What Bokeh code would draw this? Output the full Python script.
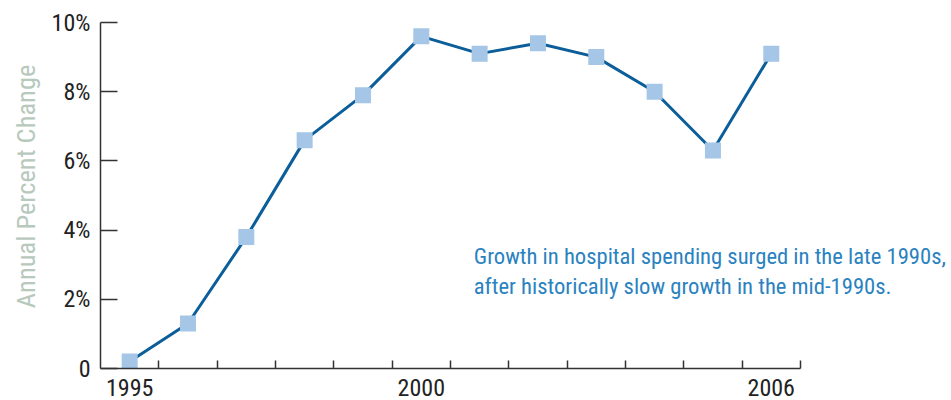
from bokeh.plotting import figure
from bokeh.models import Range1d, FixedTicker, Label
from bokeh.embed import file_html
from bokeh.resources import INLINE

years = [1995, 1996, 1997, 1998, 1999, 2000, 2001, 2002, 2003, 2004, 2005, 2006]
pct_change = [0.2, 1.3, 3.8, 6.6, 7.9, 9.6, 9.1, 9.4, 9.0, 8.0, 6.3, 9.1]
x_label_years = [1995, 2000, 2006]
x_tick_marks = [1995.5, 1996.5, 1997.5, 1998.5, 1999.5, 2000.5, 2001.5, 2002.5,
                2003.5, 2004.5, 2005.5, 2006.5]
y_ticks = [0, 2, 4, 6, 8, 10]
y_tick_labels = ["0", "2%", "4%", "6%", "8%", "10%"]
y_title = "Annual Percent Change"
note = "Growth in hospital spending surged in the late 1990s,\nafter historically slow growth in the mid-1990s."

FONT = "'Roboto Condensed', Roboto, sans-serif"
AXIS_COL = "#333333"

p = figure(width=951, height=400, output_backend="svg", toolbar_location=None,
           x_range=Range1d(1994.5, 2009.09), y_range=Range1d(0, 10),
           min_border_left=100, min_border_right=0, min_border_top=22, min_border_bottom=32)
p.outline_line_color = None
p.xgrid.grid_line_color = None
p.ygrid.grid_line_color = None
p.background_fill_color = "white"
p.border_fill_color = "white"

p.line(years, pct_change, line_color="#0b5e9a", line_width=3)
p.scatter(years, pct_change, marker="square", size=16, fill_color="#a5c6e7", line_color=None)

# x axis
xa = p.xaxis[0]
xa.bounds = (1994.5, 2006.5)
xa.ticker = FixedTicker(ticks=x_label_years, minor_ticks=x_tick_marks)
xa.major_label_overrides = {y: str(y) for y in x_label_years}
xa.major_tick_line_color = None
xa.minor_tick_in = 8
xa.minor_tick_out = 0
xa.minor_tick_line_color = AXIS_COL
xa.minor_tick_line_width = 1.5
xa.axis_line_color = AXIS_COL
xa.axis_line_width = 1.5
xa.major_label_text_font = FONT
xa.major_label_text_font_size = "24px"
xa.major_label_text_color = "#222222"
xa.major_label_standoff = 4

# y axis
ya = p.yaxis[0]
ya.ticker = FixedTicker(ticks=y_ticks, minor_ticks=[])
ya.major_label_overrides = {t: l for t, l in zip(y_ticks, y_tick_labels)}
ya.major_tick_in = 17
ya.major_tick_out = 0
ya.major_tick_line_color = AXIS_COL
ya.major_tick_line_width = 1.5
ya.minor_tick_line_color = None
ya.axis_line_color = AXIS_COL
ya.axis_line_width = 1.5
ya.major_label_text_font = FONT
ya.major_label_text_font_size = "24px"
ya.major_label_text_color = "#222222"
ya.major_label_standoff = 10
ya.axis_label = "\u00a0\u00a0\u00a0" + y_title
ya.axis_label_text_font = FONT
ya.axis_label_text_font_size = "26.5px"
ya.axis_label_text_font_style = "normal"
ya.axis_label_text_color = "#b7c9bd"
ya.axis_label_standoff = 8

p.add_layout(Label(x=2000.9, y=3.62, text=note, text_font=FONT, text_font_size="22.6px",
                   text_color="#2a82c0", text_baseline="top", text_align="left",
                   text_line_height=1.1))

open("out.html", "w").write(file_html(p, INLINE))
